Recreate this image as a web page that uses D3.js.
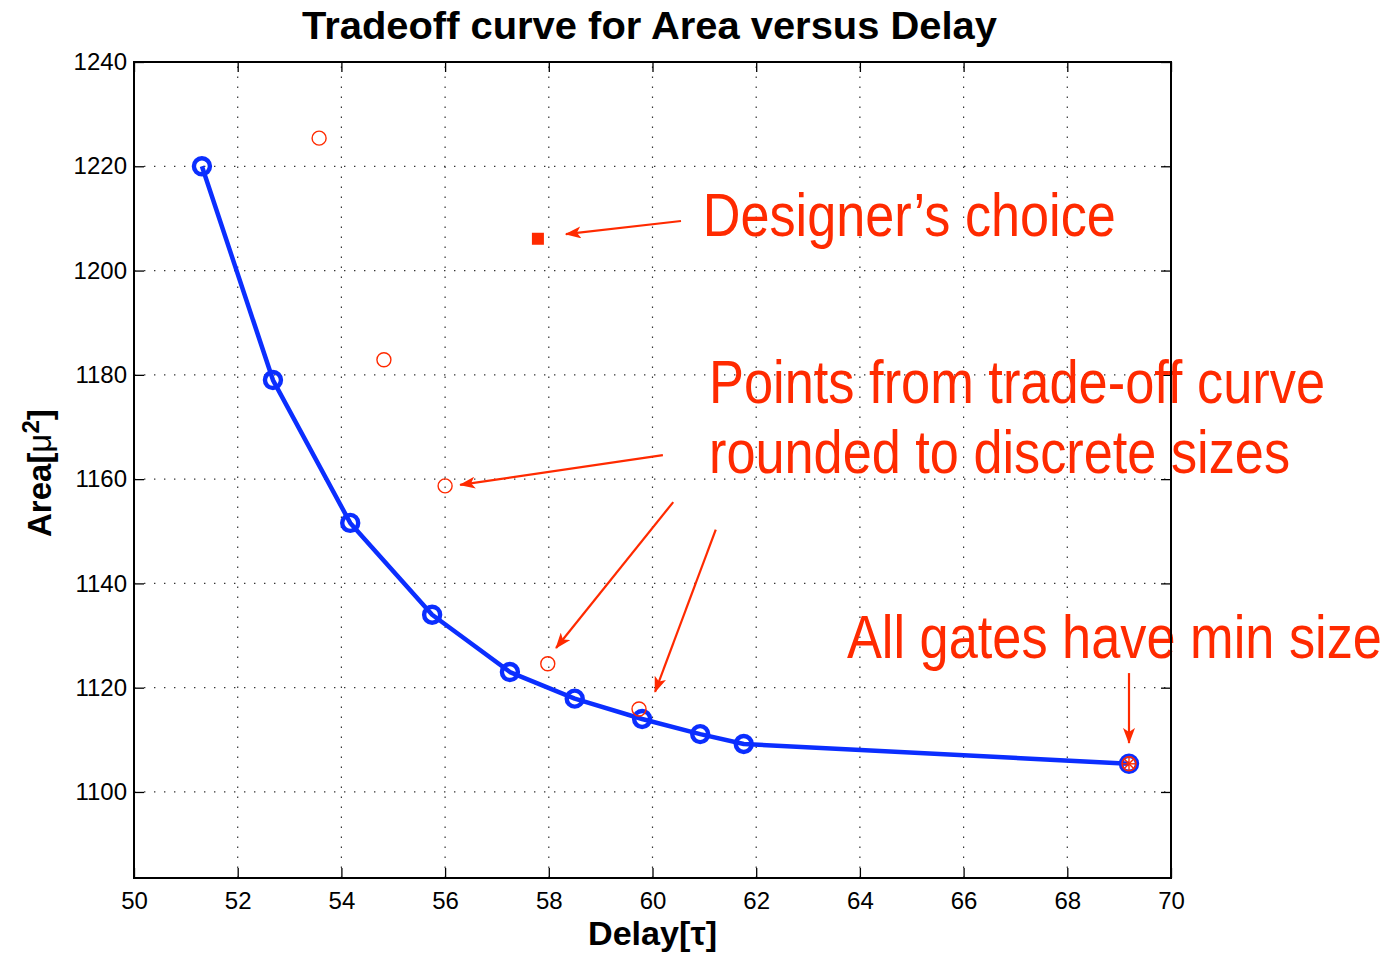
<!DOCTYPE html>
<html>
<head>
<meta charset="utf-8">
<script src="https://cdn.jsdelivr.net/npm/d3@7"></script>
<style>
  body { margin: 0; background: #fff; }
  text { font-family: "Liberation Sans", Arial, Helvetica, sans-serif; }
</style>
</head>
<body>
<script>
const w = 1392;
const h = 955;
const red = "#ff2a00";
const blue = "#0b2eff";

// trade-off curve (blue)
const curveDelay = [51.31, 52.68, 54.17, 55.75, 57.25, 58.5, 59.8, 60.92, 61.76, 69.19];
const curveArea = [1220, 1179, 1151.6, 1134, 1123, 1117.9, 1114, 1111.1, 1109.2, 1105.4];

// points rounded to discrete sizes (red circles)
const roundDelay = [53.57, 54.82, 56.0, 57.98, 59.74, 69.19];
const roundArea = [1225.4, 1182.9, 1158.7, 1124.6, 1115.9, 1105.4];

// designer's choice
const choiceDelay = [57.79];
const choiceArea = [1206.1];

const xTicks = [50, 52, 54, 56, 58, 60, 62, 64, 66, 68, 70];
const yTicks = [1100, 1120, 1140, 1160, 1180, 1200, 1220, 1240];

// annotations, in data units
const labels = [
  {text: "Designer\u2019s choice", x: 60.97, y: 1206.6, len: 413},
  {text: "Points from trade-off curve", x: 61.09, y: 1174.6, len: 616},
  {text: "rounded to discrete sizes", x: 61.09, y: 1161.2, len: 581},
  {text: "All gates have min size", x: 63.75, y: 1125.7, len: 535}
];
const arrows = [
  [60.55, 1209.5, 58.33, 1207.0],
  [60.20, 1164.6, 56.29, 1158.9],
  [60.40, 1155.6, 58.14, 1127.6],
  [61.22, 1150.3, 60.05, 1119.2],
  [69.19, 1122.8, 69.19, 1109.4]
];

const margin = {left: 134, right: 221, top: 62, bottom: 77};

const x = d3.scaleLinear().domain([50, 70]).range([margin.left, w - margin.right]);
const y = d3.scaleLinear().domain([1083.5, 1240]).range([h - margin.bottom, margin.top]);

const svg = d3.select("body").append("svg")
  .attr("width", w)
  .attr("height", h);

// grid
const grid = svg.append("g").attr("stroke", "#333").attr("stroke-width", 1.2).attr("stroke-dasharray", "1.4,8.6");
grid.selectAll(".gx").data(xTicks.slice(1, -1)).enter().append("line")
  .attr("x1", d => x(d)).attr("x2", d => x(d))
  .attr("y1", y.range()[0]).attr("y2", y.range()[1]);
grid.selectAll(".gy").data(yTicks.slice(0, -1)).enter().append("line")
  .attr("y1", d => y(d)).attr("y2", d => y(d))
  .attr("x1", x.range()[0]).attr("x2", x.range()[1]);

// axes (inward ticks, matlab style)
const fmt = d3.format("d");
const axisB = svg.append("g").attr("transform", "translate(0," + y.range()[0] + ")")
  .call(d3.axisBottom(x).tickValues(xTicks).tickFormat(fmt).tickSizeInner(-10).tickSizeOuter(0).tickPadding(14));
const axisT = svg.append("g").attr("transform", "translate(0," + y.range()[1] + ")")
  .call(d3.axisTop(x).tickValues(xTicks).tickSizeInner(-10).tickSizeOuter(0).tickFormat(""));
const axisL = svg.append("g").attr("transform", "translate(" + x.range()[0] + ",0)")
  .call(d3.axisLeft(y).tickValues(yTicks).tickFormat(fmt).tickSizeInner(-10).tickSizeOuter(0).tickPadding(7));
const axisR = svg.append("g").attr("transform", "translate(" + x.range()[1] + ",0)")
  .call(d3.axisRight(y).tickValues(yTicks).tickSizeInner(-10).tickSizeOuter(0).tickFormat(""));
[axisB, axisT, axisL, axisR].forEach(a => {
  a.select(".domain").remove();
  a.selectAll(".tick line").attr("stroke", "#000").attr("stroke-width", 1.3);
  a.selectAll(".tick text").attr("font-size", 24).attr("fill", "#000")
    .style("font-family", "'Liberation Sans', Arial, sans-serif");
});
axisB.selectAll(".tick text").attr("dy", "0.71em");

// blue curve
const pts = curveDelay.map((d, i) => [d, curveArea[i]]);
svg.append("path")
  .datum(pts)
  .attr("fill", "none")
  .attr("stroke", blue)
  .attr("stroke-width", 4.5)
  .attr("stroke-linejoin", "round")
  .attr("d", d3.line().x(d => x(d[0])).y(d => y(d[1])));
svg.selectAll(".bm").data(pts).enter().append("circle")
  .attr("cx", d => x(d[0])).attr("cy", d => y(d[1])).attr("r", 8)
  .attr("fill", "none").attr("stroke", blue).attr("stroke-width", 4.4);

// red rounded points
const rpts = roundDelay.map((d, i) => [d, roundArea[i]]);
svg.selectAll(".rm").data(rpts).enter().append("circle")
  .attr("cx", d => x(d[0])).attr("cy", d => y(d[1])).attr("r", 7)
  .attr("fill", "none").attr("stroke", red).attr("stroke-width", 1.4);

// star on the min-size point
const last = rpts[rpts.length - 1];
const star = svg.append("g").attr("transform", "translate(" + x(last[0]) + "," + y(last[1]) + ")")
  .attr("stroke", red).attr("stroke-width", 1.4);
[0, 45, 90, 135].forEach(a => {
  star.append("line").attr("x1", -7).attr("x2", 7).attr("transform", "rotate(" + a + ")");
});

// designer's choice
svg.selectAll(".sq").data(choiceDelay).enter().append("rect")
  .attr("x", (d, i) => x(d) - 6).attr("y", (d, i) => y(choiceArea[i]) - 6)
  .attr("width", 12).attr("height", 12).attr("fill", red);

// arrows
svg.append("defs").append("marker")
  .attr("id", "head")
  .attr("viewBox", "0 0 16 12")
  .attr("refX", 15).attr("refY", 6)
  .attr("markerWidth", 16).attr("markerHeight", 12)
  .attr("markerUnits", "userSpaceOnUse")
  .attr("orient", "auto")
  .append("path").attr("d", "M0,0 L16,6 L0,12 L4,6 Z").attr("fill", red);
svg.selectAll(".arr").data(arrows).enter().append("line")
  .attr("x1", d => x(d[0])).attr("y1", d => y(d[1]))
  .attr("x2", d => x(d[2])).attr("y2", d => y(d[3]))
  .attr("stroke", red).attr("stroke-width", 2.2)
  .attr("marker-end", "url(#head)");

// annotation text
svg.selectAll(".lab").data(labels).enter().append("text")
  .attr("x", d => x(d.x)).attr("y", d => y(d.y))
  .attr("font-size", 62)
  .attr("fill", red)
  .attr("textLength", d => d.len)
  .attr("lengthAdjust", "spacingAndGlyphs")
  .text(d => d.text);

// axes box on top
svg.append("rect")
  .attr("x", x.range()[0]).attr("y", y.range()[1])
  .attr("width", x.range()[1] - x.range()[0])
  .attr("height", y.range()[0] - y.range()[1])
  .attr("fill", "none").attr("stroke", "#000").attr("stroke-width", 2);

// title and axis labels
svg.append("text")
  .attr("x", 302).attr("y", 39)
  .attr("font-size", 38).attr("font-weight", "bold")
  .attr("textLength", 695).attr("lengthAdjust", "spacingAndGlyphs")
  .text("Tradeoff curve for Area versus Delay");

svg.append("text")
  .attr("x", 588).attr("y", 945)
  .attr("font-size", 33).attr("font-weight", "bold")
  .attr("textLength", 129).attr("lengthAdjust", "spacingAndGlyphs")
  .text("Delay[\u03c4]");

const yl = svg.append("text")
  .attr("transform", "translate(51,537) rotate(-90)")
  .attr("font-size", 33).attr("font-weight", "bold");
yl.append("tspan").text("Area[");
yl.append("tspan").attr("font-weight", "normal").text("\u03bc");
yl.append("tspan").attr("dy", -12).attr("font-size", 24).text("2");
yl.append("tspan").attr("dy", 12).text("]");
</script>
</body>
</html>
